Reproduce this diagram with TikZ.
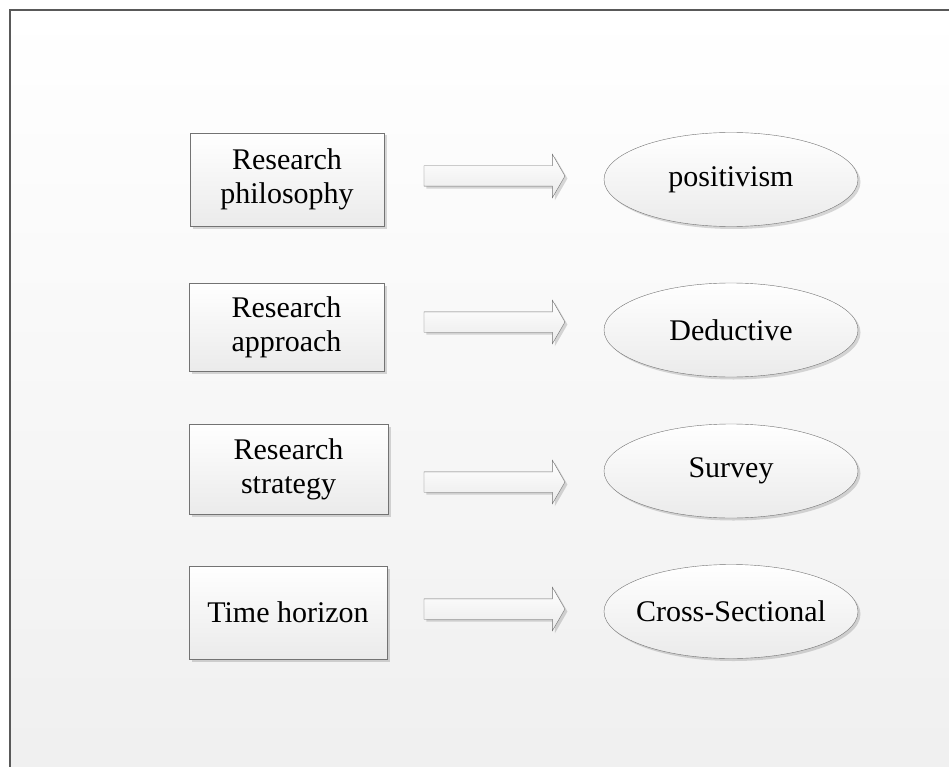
\documentclass[tikz,border=0pt]{standalone}
\usepackage{fontspec}
\setmainfont{Liberation Serif}
\usetikzlibrary{shapes.geometric,shapes.arrows,shadows,calc}

\begin{document}
\begin{tikzpicture}[x=1pt,y=1pt,
    stage/.style={draw=black!55, top color=white, bottom color=black!8, align=center,
        font=\fontsize{30}{34}\selectfont, inner sep=0pt,
        drop shadow={shadow xshift=2.5pt, shadow yshift=-2.5pt, fill=black, opacity=0.15}},
    choice/.style={ellipse, draw=black!55, top color=white, bottom color=black!8,
        font=\fontsize{30}{34}\selectfont, inner sep=0pt,
        minimum width=254pt, minimum height=94pt,
        drop shadow={shadow xshift=2.5pt, shadow yshift=-2.5pt, fill=black, opacity=0.15}},
    flow/.style={single arrow, draw=black!55, top color=white, bottom color=black!8,
        minimum height=141pt, inner sep=10pt, single arrow head extend=11.5pt,
        single arrow tip angle=120,
        drop shadow={shadow xshift=2.5pt, shadow yshift=-2.5pt, fill=black, opacity=0.15}}
]
\useasboundingbox (0,0) rectangle (949,-767);

% Page background and frame
\fill[top color=white, bottom color=black!6] (10,-10) rectangle (949,-767);
\draw[black!65, line width=1.2pt] (10,-767) -- (10,-10) -- (949,-10);

% Left column
\node[stage, minimum width=194pt, minimum height=93pt] (phil) at (287,-179.5) {Research\\philosophy};
\node[stage, minimum width=195pt, minimum height=88pt] (appr) at (286.5,-327) {Research\\approach};
\node[stage, minimum width=199pt, minimum height=90pt] (strat) at (288.5,-469) {Research\\strategy};
\node[stage, minimum width=198pt, minimum height=93pt] (time) at (288,-612.5) {Time horizon};

% Right column
\node[choice] (posi) at (731,-179.5) {positivism};
\node[choice] (dedu) at (731,-330) {Deductive};
\node[choice] (surv) at (731,-471) {Survey};
\node[choice] (cross) at (731,-611.5) {\makebox[0pt]{Cross-Sectional}};

% Block arrows
\node[flow] (a1) at ($(phil.east)!0.5!(posi.west)+(-2.5,3.5)$) {};
\node[flow] (a2) at ($(appr.east)!0.5!(dedu.west)+(-2.5,6.5)$) {};
\node[flow] (a3) at ($(strat.east)!0.5!(surv.west)+(-4.5,-12)$) {};
\node[flow] (a4) at ($(time.east)!0.5!(cross.west)+(-4,3)$) {};

\end{tikzpicture}
\end{document}
